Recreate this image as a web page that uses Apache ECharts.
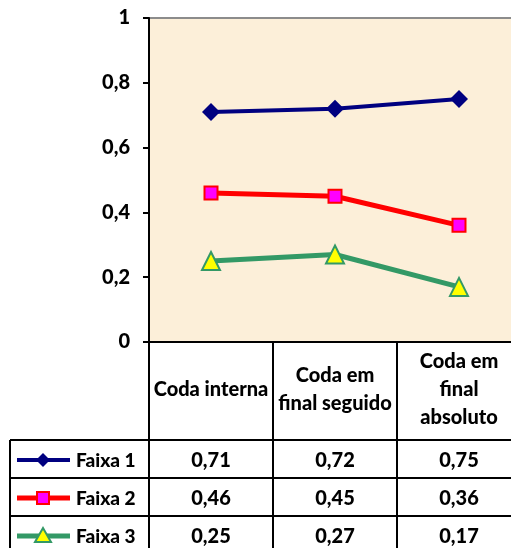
<!DOCTYPE html>
<html>
<head>
<meta charset="utf-8">
<script src="https://cdn.jsdelivr.net/npm/echarts@6/dist/echarts.min.js"></script>
<style>
  html, body { margin: 0; padding: 0; background: #ffffff; overflow: hidden; }
  /* the plot area runs a little past the right edge of the window */
  #chart { width: 521px; height: 548px; }
</style>
</head>
<body>
<div id="chart"></div>
<script>
// Categories (column headers of the data table)
const categories = ['Coda interna', 'Coda em\nfinal seguido', 'Coda em\nfinal\nabsoluto'];
// Series names
const seriesNames = ['Faixa 1', 'Faixa 2', 'Faixa 3'];
// Values per series
const faixa1 = [0.71, 0.72, 0.75];
const faixa2 = [0.46, 0.45, 0.36];
const faixa3 = [0.25, 0.27, 0.17];
// Y axis ticks
const yTicks = [0, 0.2, 0.4, 0.6, 0.8, 1];

const FONT = 'Lato, "Open Sans", sans-serif';
const FS = 20;
const FW = '900';
const fmt = v => String(v).replace('.', ',');

const chart = echarts.init(document.getElementById('chart'), null, { renderer: 'canvas' });

const styles = [
  { line: '#000080', width: 4, symbol: 'diamond', size: 18, fill: '#000080', border: '#000080', bw: 0 },
  { line: '#ff0000', width: 5, symbol: 'rect', size: 13, fill: '#ff00ff', border: '#ff0000', bw: 2 },
  { line: '#339966', width: 5, symbol: 'triangle', size: 18, fill: '#ffff00', border: '#339966', bw: 2 }
];
const values = [faixa1, faixa2, faixa3];

const option = {
  animation: false,
  backgroundColor: '#ffffff',
  grid: {
    left: 149, top: 18, right: 0, bottom: 206,
    show: true, backgroundColor: '#fcefd9', borderColor: '#8c8c8c', borderWidth: 2
  },
  xAxis: {
    type: 'category',
    data: categories,
    boundaryGap: true,
    axisLine: { lineStyle: { color: '#000', width: 2 } },
    axisTick: { show: true, inside: false, length: 210, alignWithLabel: false, lineStyle: { color: '#000', width: 2 } },
    axisLabel: {
      color: '#000', fontFamily: FONT, fontWeight: FW, fontSize: FS,
      lineHeight: 28, margin: 48, verticalAlign: 'middle', align: 'center', interval: 0
    },
    splitLine: { show: false }
  },
  yAxis: {
    type: 'value',
    min: yTicks[0], max: yTicks[yTicks.length - 1], interval: 0.2,
    axisLine: { show: true, lineStyle: { color: '#000', width: 2 } },
    axisTick: { show: true, length: 6, lineStyle: { color: '#000', width: 2 } },
    axisLabel: {
      color: '#000', fontFamily: FONT, fontWeight: FW, fontSize: FS, margin: 19,
      formatter: v => fmt(Math.round(v * 10) / 10)
    },
    splitLine: { show: false }
  },
  series: seriesNames.map((name, i) => ({
    name,
    type: 'line',
    data: values[i],
    symbol: styles[i].symbol,
    symbolSize: styles[i].size,
    lineStyle: { color: styles[i].line, width: styles[i].width },
    itemStyle: { color: styles[i].fill, borderColor: styles[i].border, borderWidth: styles[i].bw },
    emphasis: { disabled: true }
  }))
};
chart.setOption(option);

// Data table rows below the chart
const rowTops = [440, 478, 516];
const rowH = 38;
const graphics = [];
rowTops.forEach(y => {
  graphics.push({ type: 'line', shape: { x1: 10, y1: y, x2: 521, y2: y }, style: { stroke: '#000', lineWidth: 2 } });
});
graphics.push({ type: 'line', shape: { x1: 10, y1: 440, x2: 10, y2: 548 }, style: { stroke: '#000', lineWidth: 2 } });

// legend keys: line with the series marker, then the series name
const keySymbol = (s, cx, cy) => {
  const st = { fill: s.fill, stroke: s.border, lineWidth: s.bw };
  if (s.symbol === 'diamond') {
    const h = 7;
    return { type: 'polygon', shape: { points: [[cx, cy - h], [cx + h, cy], [cx, cy + h], [cx - h, cy]] }, style: st };
  }
  if (s.symbol === 'rect') {
    return { type: 'rect', shape: { x: cx - 6, y: cy - 6, width: 12, height: 12 }, style: st };
  }
  return { type: 'polygon', shape: { points: [[cx, cy - 8], [cx + 8, cy + 6], [cx - 8, cy + 6]] }, style: st };
};
seriesNames.forEach((name, r) => {
  const cy = rowTops[r] + rowH / 2 + 1;
  const s = styles[r];
  graphics.push({ type: 'line', shape: { x1: 17, y1: cy, x2: 70, y2: cy }, style: { stroke: s.line, lineWidth: s.width } });
  graphics.push(keySymbol(s, 43, cy));
  graphics.push({
    type: 'text', x: 76, y: cy + 1,
    style: { text: name, fill: '#000', font: FW + ' ' + (FS - 1) + 'px ' + FONT, align: 'left', verticalAlign: 'middle' }
  });
});

// value cells
values.forEach((arr, r) => {
  arr.forEach((v, c) => {
    const x = chart.convertToPixel({ xAxisIndex: 0 }, c);
    graphics.push({
      type: 'text', x, y: rowTops[r] + rowH / 2 + 2,
      style: { text: fmt(v), fill: '#000', font: FW + ' ' + FS + 'px ' + FONT, align: 'center', verticalAlign: 'middle' }
    });
  });
});
chart.setOption({ graphic: graphics });
</script>
</body>
</html>
